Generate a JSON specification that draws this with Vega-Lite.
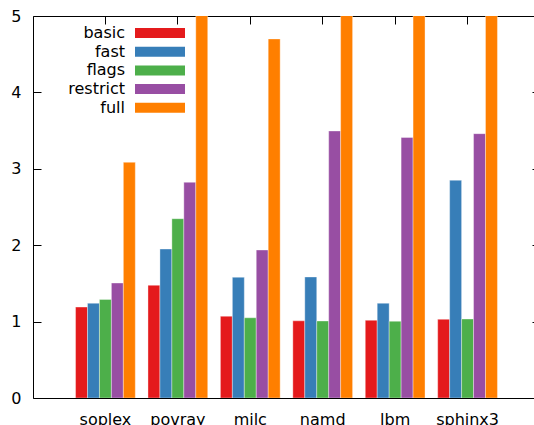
{
  "$schema": "https://vega.github.io/schema/vega-lite/v6.json",
  "width": 507,
  "height": 382,
  "autosize": {"type": "none"},
  "padding": {"left": 33, "top": 16, "right": 0, "bottom": 27},
  "background": "white",
  "config": {
    "font": "DejaVu Sans",
    "view": {"stroke": "black", "strokeWidth": 1},
    "axis": {"labelFont": "DejaVu Sans", "labelFontSize": 16, "labelColor": "black", "tickColor": "black", "domain": false, "grid": false, "title": null},
    "legend": {"labelFont": "DejaVu Sans", "labelFontSize": 16, "labelColor": "black"}
  },
  "data": {
    "values": [
      {"bench": "soplex", "variant": "basic", "value": 1.19},
      {"bench": "soplex", "variant": "fast", "value": 1.24},
      {"bench": "soplex", "variant": "flags", "value": 1.29},
      {"bench": "soplex", "variant": "restrict", "value": 1.505},
      {"bench": "soplex", "variant": "full", "value": 3.085},
      {"bench": "povray", "variant": "basic", "value": 1.475},
      {"bench": "povray", "variant": "fast", "value": 1.95},
      {"bench": "povray", "variant": "flags", "value": 2.347},
      {"bench": "povray", "variant": "restrict", "value": 2.823},
      {"bench": "povray", "variant": "full", "value": 6},
      {"bench": "milc", "variant": "basic", "value": 1.07},
      {"bench": "milc", "variant": "fast", "value": 1.58},
      {"bench": "milc", "variant": "flags", "value": 1.05},
      {"bench": "milc", "variant": "restrict", "value": 1.937},
      {"bench": "milc", "variant": "full", "value": 4.70},
      {"bench": "namd", "variant": "basic", "value": 1.01},
      {"bench": "namd", "variant": "fast", "value": 1.584},
      {"bench": "namd", "variant": "flags", "value": 1.008},
      {"bench": "namd", "variant": "restrict", "value": 3.495},
      {"bench": "namd", "variant": "full", "value": 6},
      {"bench": "lbm", "variant": "basic", "value": 1.017},
      {"bench": "lbm", "variant": "fast", "value": 1.24},
      {"bench": "lbm", "variant": "flags", "value": 1.004},
      {"bench": "lbm", "variant": "restrict", "value": 3.41},
      {"bench": "lbm", "variant": "full", "value": 6},
      {"bench": "sphinx3", "variant": "basic", "value": 1.03},
      {"bench": "sphinx3", "variant": "fast", "value": 2.85},
      {"bench": "sphinx3", "variant": "flags", "value": 1.034},
      {"bench": "sphinx3", "variant": "restrict", "value": 3.46},
      {"bench": "sphinx3", "variant": "full", "value": 6}
    ]
  },
  "layer": [
    {
      "mark": {"type": "bar", "clip": true, "stroke": "white", "strokeWidth": 0.6, "strokeOpacity": 0.6},
      "encoding": {
        "x": {
          "field": "bench", "type": "nominal", "sort": null,
          "scale": {"paddingInner": 0.175, "paddingOuter": 0.5875},
          "axis": {"orient": "bottom", "ticks": false, "labelAngle": 0, "labelPadding": 13}
        },
        "xOffset": {"field": "variant", "type": "nominal", "sort": ["basic", "fast", "flags", "restrict", "full"], "scale": {"paddingInner": 0, "paddingOuter": 0}},
        "y": {
          "field": "value", "type": "quantitative",
          "scale": {"domain": [0, 5], "nice": false},
          "axis": {"orient": "left", "values": [0, 1, 2, 3, 4, 5], "tickSize": -8, "labelPadding": 20}
        },
        "color": {
          "field": "variant", "type": "nominal",
          "scale": {"domain": ["basic", "fast", "flags", "restrict", "full"], "range": ["#e41a1c", "#377eb8", "#4daf4a", "#984ea3", "#ff7f00"]},
          "legend": {
            "title": null, "orient": "none", "legendX": 94, "legendY": 9,
            "symbolType": "M0,-0.625H6.25V0.625H0Z", "symbolSize": 256, "symbolStrokeWidth": 0, "symbolOpacity": 1,
            "labelAlign": "right", "labelOffset": -18, "rowPadding": 2.7, "padding": 0
          }
        }
      }
    },
    {
      "mark": {"type": "bar", "opacity": 0},
      "encoding": {
        "x": {
          "field": "bench", "type": "nominal", "sort": null,
          "axis": {"orient": "top", "labels": false, "tickSize": -8}
        },
        "xOffset": {"field": "variant", "type": "nominal", "sort": ["basic", "fast", "flags", "restrict", "full"]},
        "y": {
          "field": "value", "type": "quantitative",
          "axis": {"orient": "right", "labels": false, "values": [0, 1, 2, 3, 4, 5], "tickSize": -8}
        }
      }
    }
  ],
  "resolve": {"axis": {"x": "independent", "y": "independent"}}
}
